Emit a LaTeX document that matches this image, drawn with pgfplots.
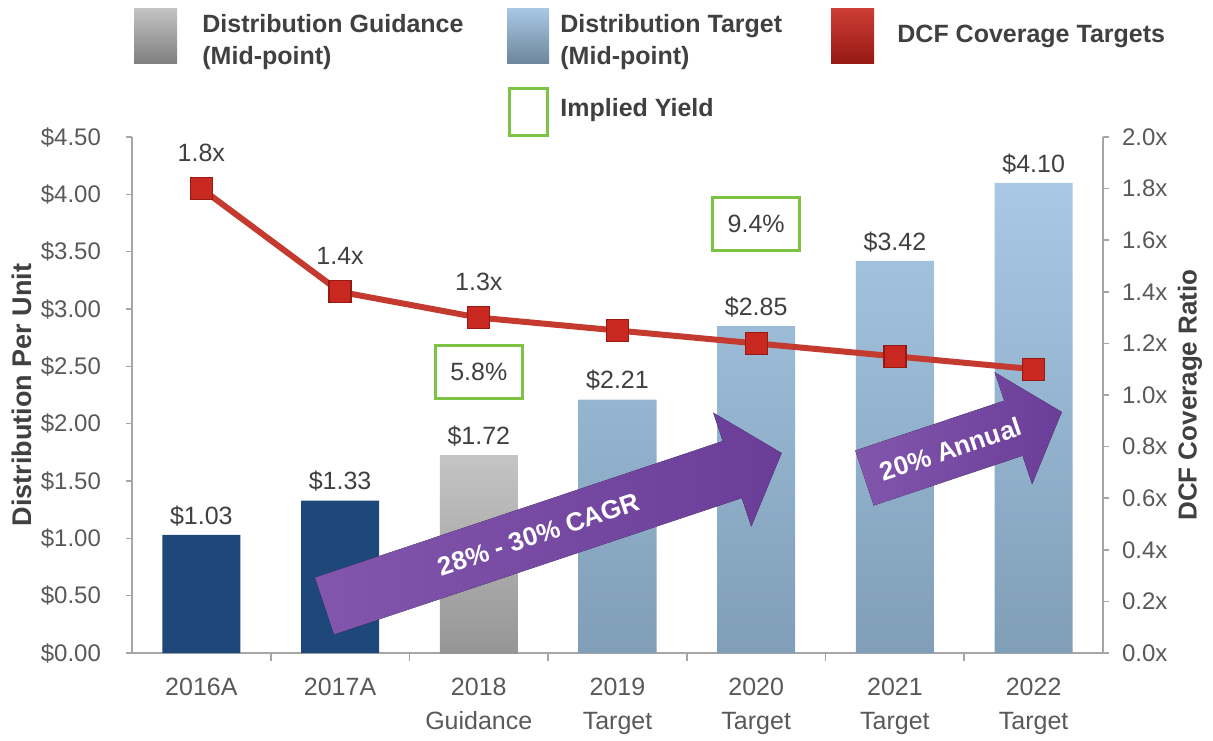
\documentclass[border=0pt]{standalone}
\usepackage{pgfplots}
\pgfplotsset{compat=1.18}
\usepackage{fontspec}
\setmainfont{Liberation Sans}
\definecolor{navy}{RGB}{30,71,122}
\definecolor{grayT}{RGB}{196,196,196}
\definecolor{grayB}{RGB}{150,150,150}
\definecolor{blueT}{RGB}{168,200,228}
\definecolor{blueB}{RGB}{128,158,184}
\definecolor{redline}{RGB}{196,58,46}
\definecolor{redmark}{RGB}{200,40,32}
\definecolor{redmarkD}{RGB}{150,25,18}
\definecolor{greenbox}{RGB}{125,194,66}
\definecolor{purpL}{RGB}{130,86,172}
\definecolor{purpD}{RGB}{106,62,152}
\definecolor{txt}{RGB}{64,64,64}
\definecolor{ticktxt}{RGB}{89,89,89}
\definecolor{axgray}{RGB}{166,166,166}
\begin{document}
\begin{tikzpicture}
\useasboundingbox (0,0) rectangle (606.5pt,-370pt);
\pgfplotsset{
  /pgf/number format/assume math mode=true,
  common/.style={
    at={(66pt,-326.5pt)}, anchor=south west,
    width=485.5pt, height=258pt, scale only axis,
    xmin=-0.5, xmax=6.5, clip=false,
    axis line style={axgray, line width=0.8pt},
    tick align=outside,
    major tick length=3pt,
    y tick style={axgray, line width=0.8pt},
    yticklabel style={font=\fontsize{12}{14}\selectfont, text=ticktxt},
  },
}
\begin{axis}[common,
  ymin=0, ymax=4.5,
  axis y line*=left, axis x line*=bottom,
  xtick={0,...,6},
  xticklabels={2016A,2017A,{2018\\Guidance},{2019\\Target},{2020\\Target},{2021\\Target},{2022\\Target}},
  xticklabel style={align=center, font=\fontsize{12.5}{17}\selectfont, text=ticktxt, yshift=-6pt},
  major x tick style={draw=none},
  minor x tick num=1,
  minor x tick style={axgray, line width=0.8pt},
  minor tick length=4pt,
  ytick={0,0.5,1,1.5,2,2.5,3,3.5,4,4.5},
  yticklabel={\$\pgfmathprintnumber[fixed,fixed zerofill,precision=2]{\tick}},
  yticklabel style={xshift=-9pt},
  ylabel={Distribution Per Unit},
  every axis y label/.style={at={(axis description cs:-0.1133,0.5)}, rotate=90, anchor=center, font=\bfseries\fontsize{13.5}{16}\selectfont, text=txt},
  nodes near coords={\$\pgfmathprintnumber[fixed,fixed zerofill,precision=2]{\pgfplotspointmeta}},
  nodes near coords style={font=\fontsize{12.5}{15}\selectfont, text=txt, yshift=1pt},
]
\addplot[ybar, bar width=39pt, bar shift=0pt, fill=navy, draw=none, point meta=y]
  coordinates {(0,1.03) (1,1.33)};
\addplot[ybar, bar width=39pt, bar shift=0pt, draw=none, top color=grayT, bottom color=grayB, point meta=y]
  coordinates {(2,1.72)};
\addplot[ybar, bar width=39pt, bar shift=0pt, draw=none, top color=blueT, bottom color=blueB, point meta=y]
  coordinates {(3,2.21) (4,2.85) (5,3.42) (6,4.10)};
\node[draw=greenbox, line width=1.5pt, fill=white, minimum width=43.5pt, minimum height=26.5pt, inner sep=0pt, font=\fontsize{12.5}{15}\selectfont, text=txt] at (axis cs:2,2.455) {5.8\%};
\node[draw=greenbox, line width=1.5pt, fill=white, minimum width=43.5pt, minimum height=26.5pt, inner sep=0pt, font=\fontsize{12.5}{15}\selectfont, text=txt] at (axis cs:4,3.745) {9.4\%};
\end{axis}
% growth arrows
\begin{scope}[x=0.5pt, y=-0.5pt]
  \begin{scope}[shift={(324.5,606)}, rotate=18.5]
    \fill[left color=purpL, right color=purpD] (0,-30) -- (430,-30) -- (430,-60) -- (482,0) -- (430,60) -- (430,30) -- (0,30) -- cycle;
    \node[rotate=18.5, text=white, font=\bfseries\fontsize{13}{15}\selectfont] at (226,0) {28\% - 30\% CAGR};
  \end{scope}
  \begin{scope}[shift={(864.5,478)}, rotate=18.5]
    \fill[left color=purpL, right color=purpD] (0,-29) -- (157,-29) -- (157,-59) -- (208,0) -- (157,59) -- (157,29) -- (0,29) -- cycle;
    \node[rotate=18.5, text=white, font=\bfseries\fontsize{13}{15}\selectfont] at (91,0) {20\% Annual};
  \end{scope}
  % legend
  \shade[top color=grayT, bottom color=grayB!85!black] (134,8) rectangle (177,63);
  \node[anchor=base west, inner sep=0pt, text=txt, font=\bfseries\fontsize{12.5}{15}\selectfont] at (202,32) {Distribution Guidance};
  \node[anchor=base west, inner sep=0pt, text=txt, font=\bfseries\fontsize{12.5}{15}\selectfont] at (202,64) {(Mid-point)};
  \shade[top color=blueT, bottom color=blueB!85!black] (507,8) rectangle (549,63);
  \node[anchor=base west, inner sep=0pt, text=txt, font=\bfseries\fontsize{12.5}{15}\selectfont] at (560,32) {Distribution Target};
  \node[anchor=base west, inner sep=0pt, text=txt, font=\bfseries\fontsize{12.5}{15}\selectfont] at (560,64) {(Mid-point)};
  \shade[top color=redmark!90!white, bottom color=redmarkD] (831,8) rectangle (874,63);
  \node[anchor=base west, inner sep=0pt, text=txt, font=\bfseries\fontsize{12.5}{15}\selectfont] at (897,42) {DCF Coverage Targets};
  \draw[greenbox, line width=1.5pt] (509,88) rectangle (547,135);
  \node[anchor=base west, inner sep=0pt, text=txt, font=\bfseries\fontsize{12.5}{15}\selectfont] at (560,116) {Implied Yield};
\end{scope}
\begin{axis}[common,
  ymin=0, ymax=2,
  axis y line*=right, axis x line=none,
  ytick={0,0.2,0.4,0.6,0.8,1,1.2,1.4,1.6,1.8,2},
  yticklabel={\pgfmathprintnumber[fixed,fixed zerofill,precision=1]{\tick}x},
  yticklabel style={xshift=3pt},
  ylabel={DCF Coverage Ratio},
  every axis y label/.style={at={(axis description cs:1.0896,0.5)}, rotate=90, anchor=center, font=\bfseries\fontsize{13}{16}\selectfont, text=txt},
]
\addplot[redline, line width=3pt, mark=square*, mark size=5.5pt,
  mark options={fill=redmark, draw=redmarkD, line width=0.6pt},
  nodes near coords, point meta=explicit symbolic,
  every node near coord/.append style={anchor=center, yshift=18pt, font=\fontsize{12.5}{15}\selectfont, text=txt}]
  coordinates {(0,1.8)[1.8x] (1,1.4)[1.4x] (2,1.3)[1.3x] (3,1.25)[] (4,1.2)[] (5,1.15)[] (6,1.1)[]};
\end{axis}
\end{tikzpicture}
\end{document}
